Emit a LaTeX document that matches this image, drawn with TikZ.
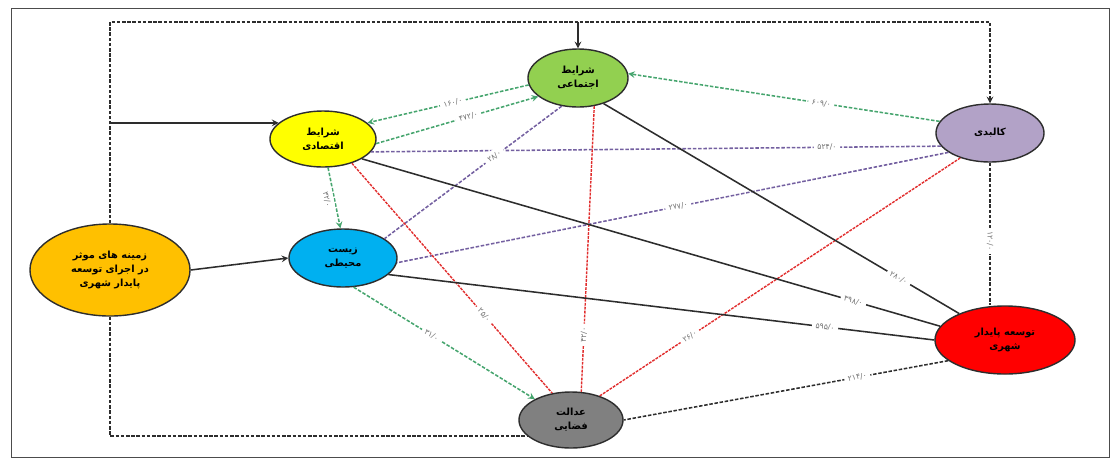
\documentclass[tikz,border=0pt]{standalone}
\usepackage{fontspec}
\newfontfamily\fafont[Script=Arabic]{DejaVu Sans}
\TeXXeTstate=1
\usetikzlibrary{shapes.geometric}

\definecolor{socgreen}{RGB}{146,208,80}
\definecolor{ecoyellow}{RGB}{255,255,0}
\definecolor{physlilac}{RGB}{178,162,199}
\definecolor{envblue}{RGB}{0,176,240}
\definecolor{baseorange}{RGB}{255,192,0}
\definecolor{sudred}{RGB}{255,0,0}
\definecolor{justgray}{RGB}{128,128,128}
\definecolor{lgreen}{RGB}{70,165,110}
\definecolor{lpurple}{RGB}{115,95,160}
\definecolor{lred}{RGB}{225,45,45}
\definecolor{ldark}{RGB}{45,45,45}

\begin{document}
\begin{tikzpicture}[x=0.025cm, y=-0.025cm, >=stealth,
	factor/.style={ellipse, draw=ldark, line width=1pt, inner sep=1pt, align=center, font=\fafont\bfseries\fontsize{7}{10}\selectfont},
	val/.style={sloped, fill=white, inner sep=2.5pt, text=black!55, font=\fafont\fontsize{5.5}{6}\selectfont},
	solidline/.style={draw=ldark, line width=1.1pt},
	dashline/.style={draw=ldark, line width=1.1pt, dash pattern=on 2.5pt off 1.2pt},
	greenline/.style={draw=lgreen, line width=1.1pt, dash pattern=on 2.5pt off 1.2pt},
	purpleline/.style={draw=lpurple, line width=1.1pt, dash pattern=on 2.5pt off 1.2pt},
	redline/.style={draw=lred, line width=1pt, dash pattern=on 2pt off 0.8pt}]

	\useasboundingbox (0,0) rectangle (1120,470);
	\draw[black!70, line width=0.5pt] (11,8) rectangle (1109,457);

	% factors
	\node[factor, fill=socgreen, minimum width=2.5cm, minimum height=1.45cm] (soc) at (578,78) {\beginR شرایط\endR\\\beginR اجتماعی\endR};
	\node[factor, fill=ecoyellow, minimum width=2.65cm, minimum height=1.4cm] (eco) at (323,139) {\beginR شرایط\endR\\\beginR اقتصادی\endR};
	\node[factor, fill=physlilac, minimum width=2.7cm, minimum height=1.45cm] (phys) at (990,133) {\beginR کالبدی\endR};
	\node[factor, fill=envblue, minimum width=2.7cm, minimum height=1.45cm] (env) at (343,258) {\beginR زیست\endR\\\beginR محیطی\endR};
	\node[factor, fill=baseorange, minimum width=4cm, minimum height=2.3cm] (base) at (110,270) {\beginR زمینه های موثر\endR\\\beginR در اجرای توسعه\endR\\\beginR پایدار شهری\endR};
	\node[factor, fill=sudred, minimum width=3.5cm, minimum height=1.7cm] (sud) at (1005,340) {\beginR توسعه پایدار\endR\\\beginR شهری\endR};
	\node[factor, fill=justgray, minimum width=2.6cm, minimum height=1.4cm] (just) at (571,420) {\beginR عدالت\endR\\\beginR فضایی\endR};

	% frame links
	\coordinate (tl) at (110,22);
	\draw[dashline, ->] (base.north) |- (phys.north |- tl) -- (phys.north);
	\draw[solidline, ->] (soc.north |- tl) -- (soc.north);
	\draw[solidline, ->] (tl |- eco.160) -- (eco.160);
	\draw[solidline, ->] (base.east) -- (env.west);
	\draw[dashline] (base.south) |- (just.200);
	\draw[dashline] (phys.south) -- (phys.south |- sud.north) node[val, pos=0.55] {۱۲۰/۰};

	% green arrows
	\draw[greenline, ->] (soc.188) -- (eco.20) node[val, pos=0.47] {۱۶۰/۰};
	\draw[greenline, ->] (eco.355) -- (soc.205) node[val, pos=0.57] {۴۷۲/۰};
	\draw[greenline, ->] (phys.167) -- (soc.5) node[val, pos=0.38] {۶۰۹/۰};
	\draw[greenline, ->] (eco.280) -- (env.95) node[val, midway, below] {۳۲/۰};
	\draw[greenline, ->] (env.290) -- (just.150) node[val, pos=0.43] {۳۱/۰};

	% purple links
	\draw[purpleline] (phys.195) -- (eco.345) node[val, pos=0.2] {۵۲۴/۰};
	\draw[purpleline] (phys.205) -- (env.355) node[val, pos=0.49] {۲۷۷/۰};
	\draw[purpleline] (soc.240) -- (env.25) node[val, pos=0.38] {۲۸/۰};

	% red links
	\draw[redline] (soc.300) -- (just.70) node[val, pos=0.8] {۴۲/۰};
	\draw[redline] (eco.320) -- (just.125) node[val, pos=0.66] {۲۵/۰};
	\draw[redline] (phys.220) -- (just.40) node[val, pos=0.75] {۲۶/۰};

	% links to sustainable development
	\draw[solidline] (soc.315) -- (sud.150) node[val, pos=0.83] {۲۸۰/۰};
	\draw[solidline] (eco.333) -- (sud.168) node[val, pos=0.85] {۳۹۸/۰};
	\draw[solidline] (env.340) -- (sud.180) node[val, pos=0.8] {۵۹۵/۰};
	\draw[dashline] (sud.200) -- (just.east) node[val, pos=0.28] {۲۱۴/۰};
\end{tikzpicture}
\end{document}
